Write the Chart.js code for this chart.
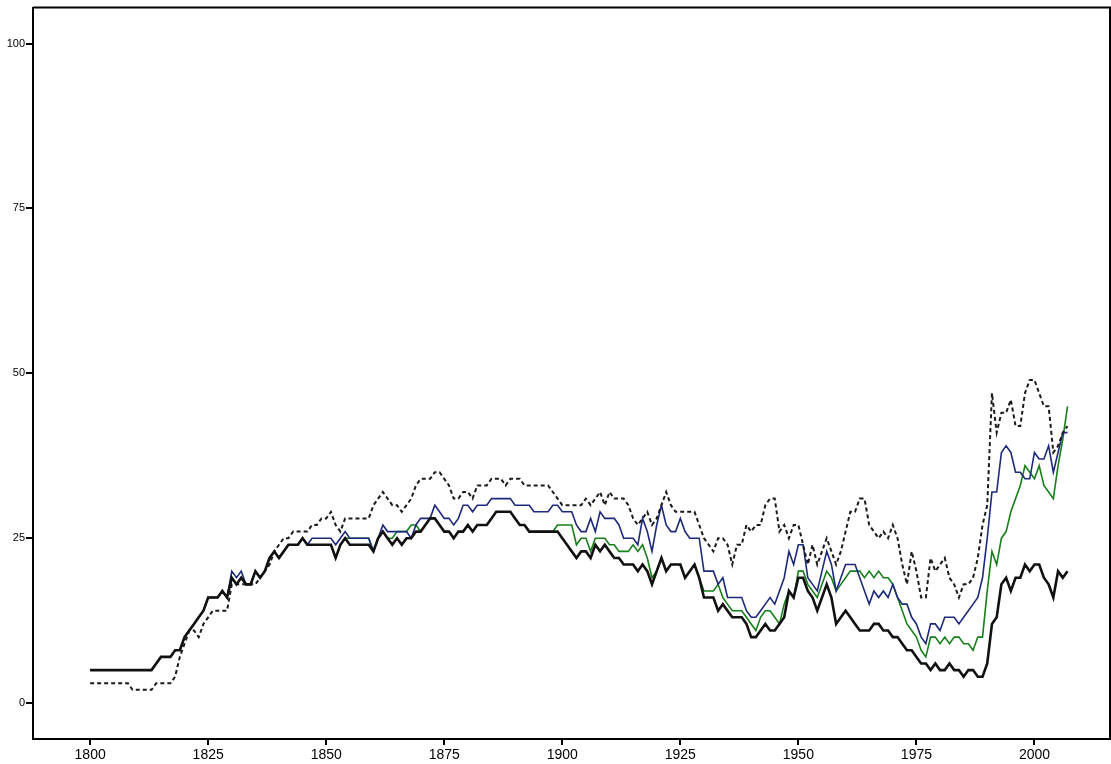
<!DOCTYPE html>
<html>
<head>
<meta charset="utf-8">
<script src="https://cdn.jsdelivr.net/npm/chart.js@4"></script>
<style>
  html, body { margin: 0; padding: 0; background: #fff; }
  #wrap { width: 1111px; height: 764px; }
</style>
</head>
<body>
<div id="wrap"><canvas id="c" width="1111" height="764"></canvas></div>
<script>
// Years on the horizontal axis, 1800 through 2007
const years = Array.from({ length: 208 }, (_, i) => 1800 + i);

// Solid black series
const seriesSolid = [
  5,5,5,5,5,5,5,5,5,5,
  5,5,5,5,6,7,7,7,8,8,
  10,11,12,13,14,16,16,16,17,16,
  19,18,19,18,18,20,19,20,22,23,
  22,23,24,24,24,25,24,24,24,24,
  24,24,22,24,25,24,24,24,24,24,
  23,25,26,25,24,25,24,25,25,26,
  26,27,28,28,27,26,26,25,26,26,
  27,26,27,27,27,28,29,29,29,29,
  28,27,27,26,26,26,26,26,26,26,
  25,24,23,22,23,23,22,24,23,24,
  23,22,22,21,21,21,20,21,20,18,
  20,22,20,21,21,21,19,20,21,19,
  16,16,16,14,15,14,13,13,13,12,
  10,10,11,12,11,11,12,13,17,16,
  19,19,17,16,14,16,18,16,12,13,
  14,13,12,11,11,11,12,12,11,11,
  10,10,9,8,8,7,6,6,5,6,
  5,5,6,5,5,4,5,5,4,4,
  6,12,13,18,19,17,19,19,21,20,
  21,21,19,18,16,20,19,20
];

// Dashed black series
const seriesDashed = [
  3,3,3,3,3,3,3,3,3,2,
  2,2,2,2,3,3,3,3,4,7,
  9,11,11,10,12,13,14,14,14,14,
  18,18,18,18,18,18,19,20,21,23,
  24,25,25,26,26,26,26,27,27,28,
  28,29,27,26,28,28,28,28,28,28,
  30,31,32,31,30,30,29,30,31,33,
  34,34,34,35,35,34,33,31,31,32,
  32,31,33,33,33,34,34,34,33,34,
  34,34,33,33,33,33,33,33,32,31,
  30,30,30,30,30,31,30,31,32,30,
  32,31,31,31,30,28,27,28,29,27,
  28,30,32,30,29,29,29,29,29,27,
  25,24,23,25,25,24,21,24,24,27,
  26,27,27,30,31,31,26,27,25,27,
  27,24,21,24,21,23,25,23,21,23,
  26,29,29,31,31,27,26,25,26,25,
  27,25,21,18,23,20,16,16,22,20,
  21,22,19,18,16,18,18,19,22,27,
  30,47,41,44,44,46,42,42,47,49,
  49,47,45,45,38,39,41,42
];

// Blue series
const seriesBlue = [
  5,5,5,5,5,5,5,5,5,5,
  5,5,5,5,6,7,7,7,8,8,
  10,11,12,13,14,16,16,16,17,16,
  20,19,20,18,18,20,19,20,22,23,
  22,23,24,24,24,25,24,25,25,25,
  25,25,24,25,26,25,25,25,25,25,
  23,25,27,26,26,26,26,26,25,27,
  28,28,28,30,29,28,28,27,28,30,
  30,29,30,30,30,31,31,31,31,31,
  30,30,30,30,29,29,29,29,30,30,
  29,29,29,27,26,26,28,26,29,28,
  28,28,27,25,25,25,24,28,26,23,
  27,30,27,26,26,28,26,25,25,25,
  20,20,20,18,19,16,16,16,16,14,
  13,13,14,15,16,15,17,19,23,21,
  24,24,19,18,17,20,23,21,17,19,
  21,21,21,19,17,15,17,16,17,16,
  18,16,15,15,13,12,10,9,12,12,
  11,13,13,13,12,13,14,15,16,19,
  25,32,32,38,39,38,35,35,34,34,
  38,37,37,39,35,38,41,41
];

// Green series
const seriesGreen = [
  5,5,5,5,5,5,5,5,5,5,
  5,5,5,5,6,7,7,7,8,8,
  10,11,12,13,14,16,16,16,17,16,
  19,18,19,18,18,20,19,20,22,23,
  22,23,24,24,24,25,24,24,24,24,
  24,24,22,24,25,25,25,25,25,25,
  23,25,26,25,25,26,26,26,27,27,
  26,27,28,28,27,26,26,25,26,26,
  27,26,27,27,27,28,29,29,29,29,
  28,27,27,26,26,26,26,26,26,27,
  27,27,27,24,25,25,23,25,25,25,
  24,24,23,23,23,24,23,24,22,19,
  20,22,20,21,21,21,19,20,21,19,
  17,17,17,18,16,15,14,14,14,13,
  12,11,13,14,14,13,12,15,17,16,
  20,20,18,17,16,18,20,19,17,18,
  19,20,20,20,19,20,19,20,19,19,
  18,16,14,12,11,10,8,7,10,10,
  9,10,9,10,10,9,9,8,10,10,
  17,23,21,25,26,29,31,33,36,35,
  34,36,33,32,31,36,40,45
];

// Axis tick labels
const xTicks = [1800, 1825, 1850, 1875, 1900, 1925, 1950, 1975, 2000];
const yTicks = [0, 25, 50, 75, 100];

const toPoints = vals => vals.map((v, i) => ({ x: years[i], y: v }));

// Closes the plot frame on the top and right sides
const frame = {
  id: 'frame',
  afterDraw(chart) {
    const { ctx, chartArea: a } = chart;
    ctx.save();
    ctx.strokeStyle = '#000';
    ctx.lineWidth = 2;
    ctx.beginPath();
    ctx.moveTo(a.left, a.top);
    ctx.lineTo(a.right, a.top);
    ctx.lineTo(a.right, a.bottom);
    ctx.stroke();
    ctx.restore();
  }
};

const common = { pointRadius: 0, pointHoverRadius: 0, tension: 0, fill: false };

new Chart(document.getElementById('c'), {
  type: 'line',
  data: {
    datasets: [
      Object.assign({ label: 'solid', data: toPoints(seriesSolid), borderColor: '#111111', borderWidth: 2.6, order: 0 }, common),
      Object.assign({ label: 'dashed', data: toPoints(seriesDashed), borderColor: '#1a1a1a', borderWidth: 2, borderDash: [4, 3], order: 1 }, common),
      Object.assign({ label: 'blue', data: toPoints(seriesBlue), borderColor: '#1d2a7c', borderWidth: 1.6, order: 2 }, common),
      Object.assign({ label: 'green', data: toPoints(seriesGreen), borderColor: '#17801a', borderWidth: 1.6, order: 3 }, common)
    ]
  },
  options: {
    responsive: false,
    animation: false,
    devicePixelRatio: 1,
    layout: { padding: { top: 7, right: 1, left: 0, bottom: 0 } },
    plugins: { legend: { display: false }, tooltip: { enabled: false } },
    scales: {
      x: {
        type: 'linear',
        min: 1787.9,
        max: 2016,
        afterBuildTicks: s => { s.ticks = xTicks.map(v => ({ value: v })); },
        afterFit: s => { s.height = 25; },
        ticks: {
          autoSkip: false, maxRotation: 0, padding: 2, color: '#000',
          font: { family: 'Liberation Sans, Arial, sans-serif', size: 14 },
          callback: v => String(v)
        },
        grid: { drawOnChartArea: false, drawTicks: true, tickLength: 6, color: '#000', lineWidth: 2 },
        border: { display: true, color: '#000', width: 2 }
      },
      y: {
        min: -5.45,
        max: 105.45,
        afterBuildTicks: s => { s.ticks = yTicks.map(v => ({ value: v })); },
        afterFit: s => { s.width = 33; },
        ticks: {
          padding: 1, color: '#000',
          font: { family: 'Liberation Sans, Arial, sans-serif', size: 11 },
          callback: v => String(v)
        },
        grid: { drawOnChartArea: false, drawTicks: true, tickLength: 7, color: '#000', lineWidth: 2 },
        border: { display: true, color: '#000', width: 2 }
      }
    }
  },
  plugins: [frame]
});
</script>
</body>
</html>
